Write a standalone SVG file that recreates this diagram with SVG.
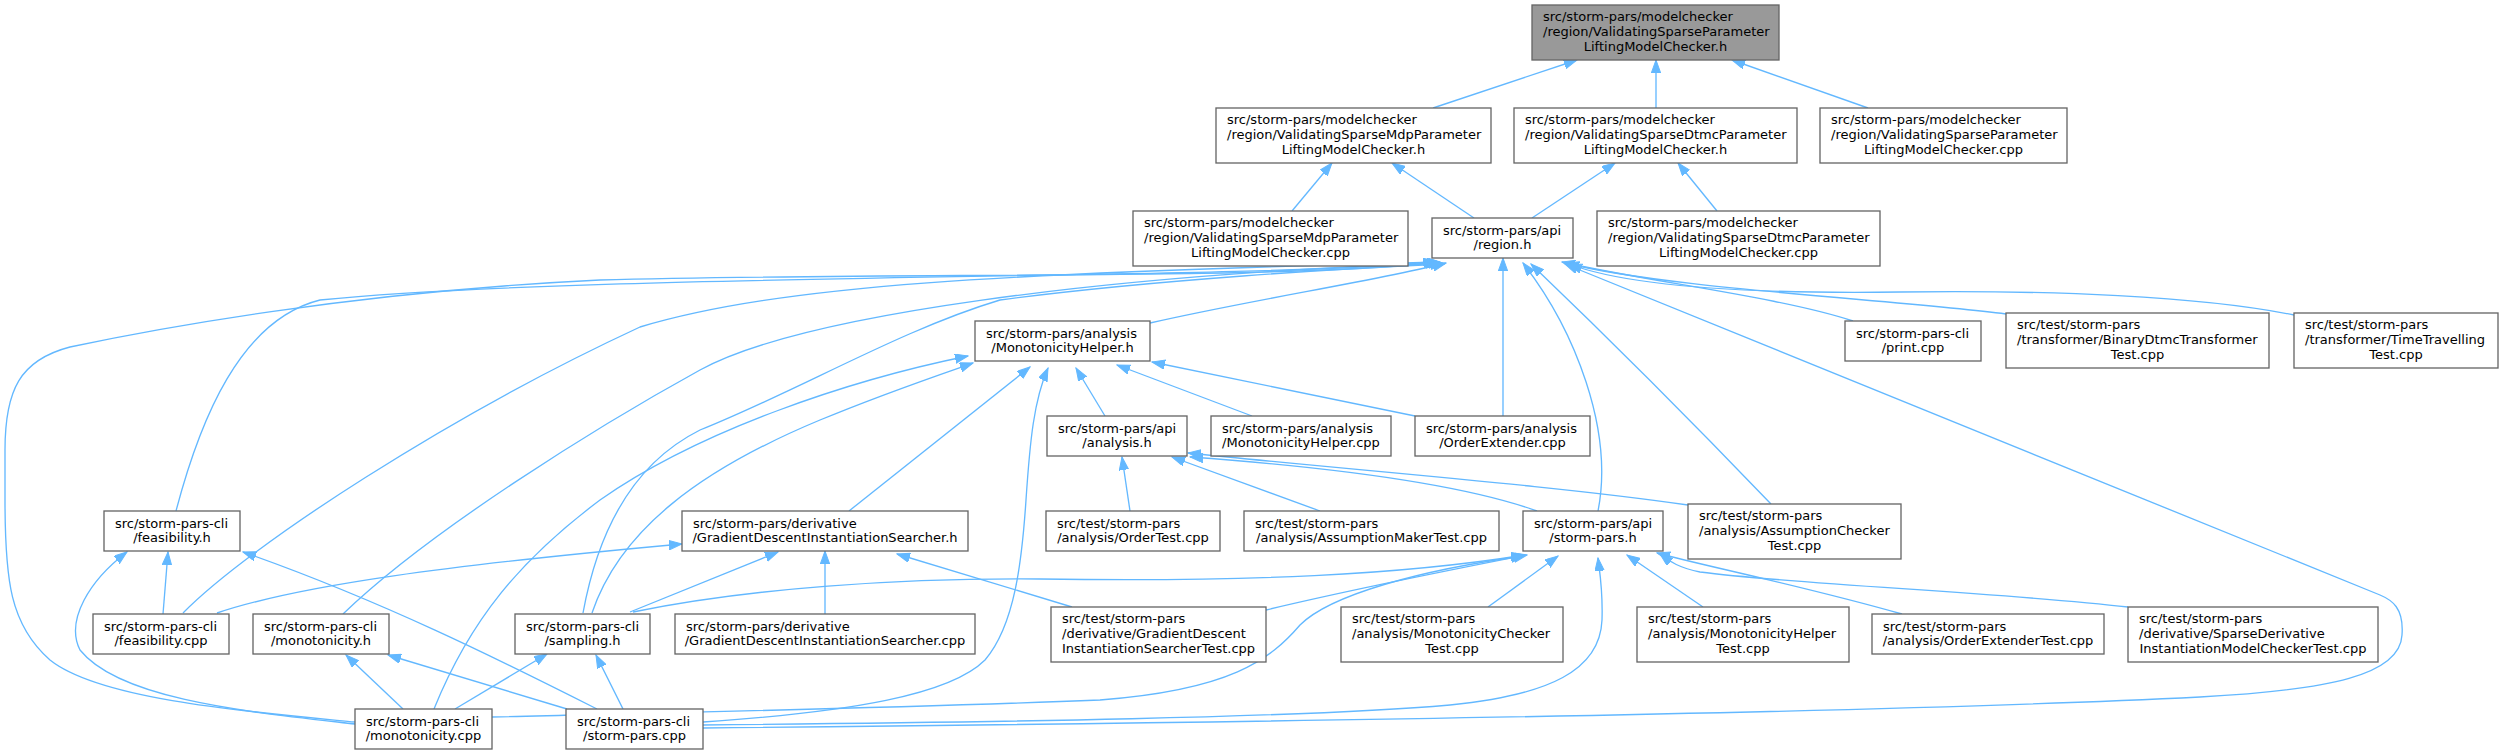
<svg xmlns="http://www.w3.org/2000/svg" width="2501" height="755" viewBox="0 0 2501 755">
<style>
.n rect{fill:#fff;stroke:#666;stroke-width:1.33}
.n.g rect{fill:#999}
text{font-family:"DejaVu Sans","Liberation Sans",sans-serif;font-size:13px;fill:#000}
.m{text-anchor:middle}
.e path{fill:none;stroke:#63b8ff;stroke-width:1.33;marker-end:url(#a)}
</style>
<defs>
<marker id="a" markerUnits="userSpaceOnUse" markerWidth="14" markerHeight="10" refX="13" refY="4.7" orient="auto" viewBox="0 0 14 10">
<path d="M0,0 L13,4.7 L0,9.4 z" fill="#63b8ff" stroke="#63b8ff" stroke-width="1"/>
</marker>
</defs>
<rect width="2501" height="755" fill="#fff"/>
<g id="edges" class="e">
<path d="M1433,108 L1577,60"/>
<path d="M1656,108 L1656,60"/>
<path d="M1868,108 L1732,60"/>
<path d="M1292,211 L1332,163"/>
<path d="M1474,218 L1392,163"/>
<path d="M1532,218 L1615,163"/>
<path d="M1717,211 L1678,163"/>
<path d="M1150,323 C1250,300 1380,280 1446,263"/>
<path d="M1853,321 C1780,297 1650,282 1562,262"/>
<path d="M2006,314 C1900,300 1660,288 1566,263"/>
<path d="M2294,315 C2200,296 2050,290 1900,292 C1750,294 1630,287 1569,264"/>
<path d="M1503,416 L1503,258"/>
<path d="M1598,511 C1614,430 1575,330 1523,263"/>
<path d="M1771,504 C1700,430 1600,330 1531,264"/>
<path d="M703,728 C1300,722 1900,712 2200,697 C2330,690 2400,675 2402,635 C2404,608 2392,600 2380,595 L1565,264"/>
<path d="M176,511 C200,420 240,320 320,300 C600,272 1300,280 1436,261"/>
<path d="M355,722 C250,712 100,700 50,660 C10,625 5,580 5,500 L5,450 C5,390 20,360 70,347 C150,330 350,292 600,280 C900,272 1300,280 1438,262"/>
<path d="M183,613 C250,545 450,415 640,327 C780,285 1000,273 1440,262"/>
<path d="M343,614 C430,530 600,425 700,370 C800,315 1100,275 1442,263"/>
<path d="M583,613 C600,520 640,460 700,430 C800,390 900,330 1000,300 C1150,280 1350,268 1444,264"/>
<path d="M1105,416 L1076,368"/>
<path d="M1252,416 L1117,365"/>
<path d="M1415,416 L1152,362"/>
<path d="M849,511 L1030,367"/>
<path d="M592,613 C620,530 700,470 820,420 C880,395 930,378 973,363"/>
<path d="M434,709 C470,620 520,560 600,500 C700,430 850,380 968,356"/>
<path d="M703,722 C850,712 950,695 985,660 C1015,625 1022,560 1026,500 C1030,440 1034,400 1048,368"/>
<path d="M1130,511 L1122,457"/>
<path d="M1320,511 L1172,457"/>
<path d="M1537,511 C1450,480 1300,465 1190,457"/>
<path d="M1688,505 C1550,485 1350,470 1188,453"/>
<path d="M163,614 L168,552"/>
<path d="M355,724 C250,712 120,700 80,650 C65,620 90,580 127,552"/>
<path d="M597,709 C500,660 380,600 243,552"/>
<path d="M217,613 C300,585 450,565 682,544"/>
<path d="M630,612 L778,552"/>
<path d="M825,614 L825,551"/>
<path d="M1072,607 L897,554"/>
<path d="M633,612 C750,588 900,578 1040,579 C1250,582 1400,575 1525,555"/>
<path d="M1266,610 C1350,590 1450,570 1527,555"/>
<path d="M1488,607 L1558,556"/>
<path d="M1703,607 L1627,555"/>
<path d="M1902,614 C1800,585 1700,565 1657,553"/>
<path d="M2128,607 C2000,592 1800,585 1700,572 C1680,568 1670,562 1660,554"/>
<path d="M492,717 C700,712 900,708 1100,700 C1230,690 1270,660 1300,625 C1330,595 1420,570 1524,556"/>
<path d="M703,725 C1000,722 1300,718 1450,705 C1550,695 1600,670 1602,620 C1603,590 1600,575 1598,558"/>
<path d="M403,709 L346,655"/>
<path d="M567,709 L388,655"/>
<path d="M455,709 L547,654"/>
<path d="M623,709 L596,655"/>
</g>
<g id="n0" class="n g"><rect x="1532" y="5" width="247" height="55"/><text x="1543" y="21.3">src/storm-pars/modelchecker</text><text x="1543" y="35.9">/region/ValidatingSparseParameter</text><text class="m" x="1655.5" y="50.5">LiftingModelChecker.h</text></g>
<g id="n1" class="n"><rect x="1216" y="108" width="275" height="55"/><text x="1227" y="124.3">src/storm-pars/modelchecker</text><text x="1227" y="138.9">/region/ValidatingSparseMdpParameter</text><text class="m" x="1353.5" y="153.5">LiftingModelChecker.h</text></g>
<g id="n2" class="n"><rect x="1514" y="108" width="283" height="55"/><text x="1525" y="124.3">src/storm-pars/modelchecker</text><text x="1525" y="138.9">/region/ValidatingSparseDtmcParameter</text><text class="m" x="1655.5" y="153.5">LiftingModelChecker.h</text></g>
<g id="n3" class="n"><rect x="1820" y="108" width="247" height="55"/><text x="1831" y="124.3">src/storm-pars/modelchecker</text><text x="1831" y="138.9">/region/ValidatingSparseParameter</text><text class="m" x="1943.5" y="153.5">LiftingModelChecker.cpp</text></g>
<g id="n4" class="n"><rect x="1133" y="211" width="275" height="55"/><text x="1144" y="227.3">src/storm-pars/modelchecker</text><text x="1144" y="241.9">/region/ValidatingSparseMdpParameter</text><text class="m" x="1270.5" y="256.5">LiftingModelChecker.cpp</text></g>
<g id="n5" class="n"><rect x="1432" y="218" width="141" height="40"/><text x="1443" y="234.5">src/storm-pars/api</text><text class="m" x="1502.5" y="249.2">/region.h</text></g>
<g id="n6" class="n"><rect x="1597" y="211" width="283" height="55"/><text x="1608" y="227.3">src/storm-pars/modelchecker</text><text x="1608" y="241.9">/region/ValidatingSparseDtmcParameter</text><text class="m" x="1738.5" y="256.5">LiftingModelChecker.cpp</text></g>
<g id="n7" class="n"><rect x="975" y="321" width="175" height="40"/><text x="986" y="337.5">src/storm-pars/analysis</text><text class="m" x="1062.5" y="352.2">/MonotonicityHelper.h</text></g>
<g id="n8" class="n"><rect x="1845" y="321" width="136" height="40"/><text x="1856" y="337.5">src/storm-pars-cli</text><text class="m" x="1913" y="352.2">/print.cpp</text></g>
<g id="n9" class="n"><rect x="2006" y="313" width="263" height="55"/><text x="2017" y="329.3">src/test/storm-pars</text><text x="2017" y="343.9">/transformer/BinaryDtmcTransformer</text><text class="m" x="2137.5" y="358.5">Test.cpp</text></g>
<g id="n10" class="n"><rect x="2294" y="313" width="204" height="55"/><text x="2305" y="329.3">src/test/storm-pars</text><text x="2305" y="343.9">/transformer/TimeTravelling</text><text class="m" x="2396" y="358.5">Test.cpp</text></g>
<g id="n11" class="n"><rect x="1047" y="416" width="140" height="40"/><text x="1058" y="432.5">src/storm-pars/api</text><text class="m" x="1117" y="447.2">/analysis.h</text></g>
<g id="n12" class="n"><rect x="1211" y="416" width="180" height="40"/><text x="1222" y="432.5">src/storm-pars/analysis</text><text class="m" x="1301" y="447.2">/MonotonicityHelper.cpp</text></g>
<g id="n13" class="n"><rect x="1415" y="416" width="175" height="40"/><text x="1426" y="432.5">src/storm-pars/analysis</text><text class="m" x="1502.5" y="447.2">/OrderExtender.cpp</text></g>
<g id="n14" class="n"><rect x="104" y="511" width="136" height="40"/><text x="115" y="527.5">src/storm-pars-cli</text><text class="m" x="172" y="542.2">/feasibility.h</text></g>
<g id="n15" class="n"><rect x="682" y="511" width="286" height="40"/><text x="693" y="527.5">src/storm-pars/derivative</text><text class="m" x="825" y="542.2">/GradientDescentInstantiationSearcher.h</text></g>
<g id="n16" class="n"><rect x="1046" y="511" width="174" height="40"/><text x="1057" y="527.5">src/test/storm-pars</text><text class="m" x="1133" y="542.2">/analysis/OrderTest.cpp</text></g>
<g id="n17" class="n"><rect x="1244" y="511" width="255" height="40"/><text x="1255" y="527.5">src/test/storm-pars</text><text class="m" x="1371.5" y="542.2">/analysis/AssumptionMakerTest.cpp</text></g>
<g id="n18" class="n"><rect x="1523" y="511" width="140" height="40"/><text x="1534" y="527.5">src/storm-pars/api</text><text class="m" x="1593" y="542.2">/storm-pars.h</text></g>
<g id="n19" class="n"><rect x="1688" y="504" width="213" height="55"/><text x="1699" y="520.3">src/test/storm-pars</text><text x="1699" y="534.9">/analysis/AssumptionChecker</text><text class="m" x="1794.5" y="549.5">Test.cpp</text></g>
<g id="n20" class="n"><rect x="93" y="614" width="136" height="40"/><text x="104" y="630.5">src/storm-pars-cli</text><text class="m" x="161" y="645.2">/feasibility.cpp</text></g>
<g id="n21" class="n"><rect x="253" y="614" width="136" height="40"/><text x="264" y="630.5">src/storm-pars-cli</text><text class="m" x="321" y="645.2">/monotonicity.h</text></g>
<g id="n22" class="n"><rect x="515" y="614" width="135" height="40"/><text x="526" y="630.5">src/storm-pars-cli</text><text class="m" x="582.5" y="645.2">/sampling.h</text></g>
<g id="n23" class="n"><rect x="675" y="614" width="300" height="40"/><text x="686" y="630.5">src/storm-pars/derivative</text><text class="m" x="825" y="645.2">/GradientDescentInstantiationSearcher.cpp</text></g>
<g id="n24" class="n"><rect x="1051" y="607" width="215" height="55"/><text x="1062" y="623.3">src/test/storm-pars</text><text x="1062" y="637.9">/derivative/GradientDescent</text><text class="m" x="1158.5" y="652.5">InstantiationSearcherTest.cpp</text></g>
<g id="n25" class="n"><rect x="1341" y="607" width="222" height="55"/><text x="1352" y="623.3">src/test/storm-pars</text><text x="1352" y="637.9">/analysis/MonotonicityChecker</text><text class="m" x="1452" y="652.5">Test.cpp</text></g>
<g id="n26" class="n"><rect x="1637" y="607" width="212" height="55"/><text x="1648" y="623.3">src/test/storm-pars</text><text x="1648" y="637.9">/analysis/MonotonicityHelper</text><text class="m" x="1743" y="652.5">Test.cpp</text></g>
<g id="n27" class="n"><rect x="1872" y="614" width="232" height="40"/><text x="1883" y="630.5">src/test/storm-pars</text><text class="m" x="1988" y="645.2">/analysis/OrderExtenderTest.cpp</text></g>
<g id="n28" class="n"><rect x="2128" y="607" width="250" height="55"/><text x="2139" y="623.3">src/test/storm-pars</text><text x="2139" y="637.9">/derivative/SparseDerivative</text><text class="m" x="2253" y="652.5">InstantiationModelCheckerTest.cpp</text></g>
<g id="n29" class="n"><rect x="355" y="709" width="137" height="40"/><text x="366" y="725.5">src/storm-pars-cli</text><text class="m" x="423.5" y="740.2">/monotonicity.cpp</text></g>
<g id="n30" class="n"><rect x="566" y="709" width="137" height="40"/><text x="577" y="725.5">src/storm-pars-cli</text><text class="m" x="634.5" y="740.2">/storm-pars.cpp</text></g>
</svg>
